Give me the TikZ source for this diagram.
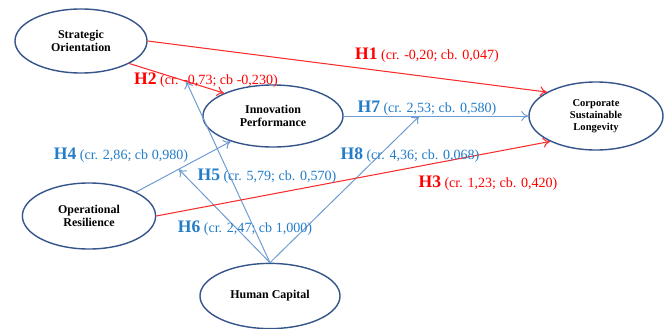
\documentclass[tikz,border=0pt]{standalone}
\usepackage{fontspec}
\setmainfont{Liberation Serif}
\usetikzlibrary{shapes.geometric, arrows.meta}

\definecolor{rimblue}{RGB}{52,84,138}
\definecolor{pathblue}{RGB}{110,155,210}
\definecolor{labblue}{RGB}{35,125,200}
\definecolor{pathred}{RGB}{250,45,45}

\newcommand{\hyp}[1]{{\fontsize{12.5}{13}\selectfont\bfseries #1}}

\tikzset{
  >={To[length=5pt,width=7pt]},
  construct/.style={ellipse, draw=rimblue, line width=1pt, align=center, inner sep=0pt,
    font=\bfseries\fontsize{8.5}{9.5}\selectfont},
  redpath/.style={->, pathred, line width=0.75pt},
  bluepath/.style={->, pathblue, line width=0.7pt},
  redlab/.style={text=red, inner sep=0pt, font=\fontsize{10}{12}\selectfont},
  bluelab/.style={text=labblue, inner sep=0pt, font=\fontsize{10}{12}\selectfont}
}

\begin{document}
\begin{tikzpicture}[x=0.025cm, y=-0.025cm]
  \useasboundingbox (0,0) rectangle (672,329);
  % constructs
  \node[construct, minimum width=3.3cm, minimum height=1.6cm] (so) at (81,41) {Strategic\\Orientation};
  \node[construct, minimum width=3.5cm, minimum height=1.55cm] (ip) at (273,116) {Innovation\\Performance};
  \node[construct, minimum width=3.35cm, minimum height=1.7cm, font=\bfseries\fontsize{7.5}{8.5}\selectfont] (csl) at (596,116) {Corporate\\Sustainable\\Longevity};
  \node[construct, minimum width=3.33cm, minimum height=1.65cm] (or) at (89,216) {Operational\\Resilience};
  \node[construct, minimum width=3.5cm, minimum height=1.63cm] (hc) at (270,296) {Human Capital};
  % blue paths first, red on top
  \draw[bluepath] (or.27) -- (ip.211) coordinate[pos=0.45] (m4);
  \draw[bluepath] (ip.east) -- (csl.west) coordinate[pos=0.41] (m7);
  \draw[redpath] (so.335) -- (ip.155) coordinate[pos=0.6] (m2);
  \draw[bluepath] (hc.north) -- (m4);
  \draw[bluepath] (hc.north) -- (m2);
  \draw[bluepath] (hc.north) -- (m7);
  \draw[redpath] (so.east) -- (csl.154);
  \draw[redpath] (or.east) -- (csl.209);
  % hypothesis labels
  \node[redlab] (h1) at (427,55) {\hyp{H1} (cr. -0,20; cb. 0,047)};
  \node[redlab] (h2) at (206,80) {\hyp{H2} (cr. -0,73; cb -0,230)};
  \node[redlab] (h3) at (488,183) {\hyp{H3} (cr. 1,23; cb. 0,420)};
  \node[bluelab] (h4) at (121,155) {\hyp{H4} (cr. 2,86; cb 0,980)};
  \node[bluelab] (h5) at (267,176) {\hyp{H5} (cr. 5,79; cb. 0,570)};
  \node[bluelab] (h6) at (245,228) {\hyp{H6} (cr. 2,47; cb 1,000)};
  \node[bluelab] (h7) at (427,108) {\hyp{H7} (cr. 2,53; cb. 0,580)};
  \node[bluelab] (h8) at (410,155) {\hyp{H8} (cr. 4,36; cb. 0,068)};
\end{tikzpicture}
\end{document}
